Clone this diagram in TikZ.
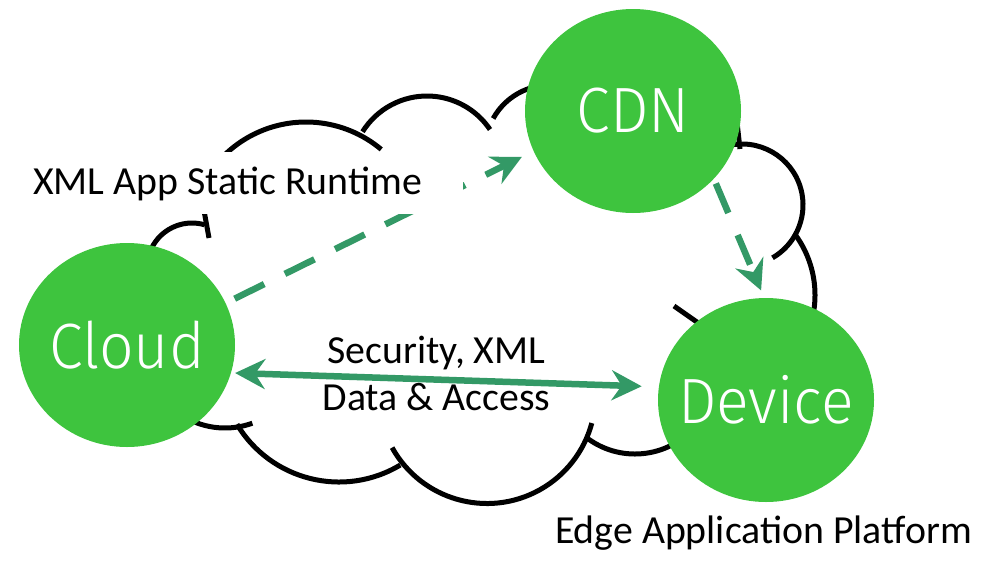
\documentclass[tikz,border=0pt]{standalone}
\usepackage{fontspec}
\setmainfont{Carlito}
\IfFontExistsTF{Fira Sans Light}
  {\newfontfamily\circfont[FakeStretch=0.95]{Fira Sans Light}}
  {\newfontfamily\circfont[FakeStretch=0.9]{Fira Sans}}
\usetikzlibrary{arrows.meta,shapes.geometric}
\definecolor{nodegreen}{RGB}{62,196,62}
\definecolor{arrowgreen}{RGB}{51,153,102}
\pgfdeclarelayer{bg}
\pgfsetlayers{bg,main}
\begin{document}
\begin{tikzpicture}[x=1pt,y=-1pt,
  bump/.style={line width=5pt, black},
  hub/.style={ellipse, fill=nodegreen, minimum width=216pt, minimum height=204pt,
    inner sep=0pt, text=white, font=\circfont\fontsize{64}{70}\selectfont},
  lbl/.style={font=\fontsize{39.8}{47}\selectfont, inner sep=0pt, anchor=base},
  flow/.style={arrowgreen, line width=6.5pt},
  tipend/.style={-{Stealth[length=30pt, width=30pt, inset=10pt]}},
  dashflow/.style={flow, tipend},
]
\useasboundingbox (0,0) rectangle (984,560);

% hubs
\node[hub] (cloudn) at (127,345) {\makebox[0pt]{Cloud}};
\node[hub] (cdn) at (633,111) {\makebox[0pt]{CDN}};
\node[hub] (device) at (766,400) {\makebox[0pt]{Device}};

% cloud outline behind the hubs
\begin{pgfonlayer}{bg}
\draw[bump] (306,239) ++(145:117pt) arc[start angle=145, end angle=50, radius=117pt];
\draw[bump] (427,172) ++(148:76pt) arc[start angle=148, end angle=34, radius=76pt];
\draw[bump] (550,150) ++(151:65pt) arc[start angle=151, end angle=80, radius=65pt];
\draw[bump] (737,122) -- (740,149);
\draw[bump] (742,205) ++(100:61pt) arc[start angle=100, end angle=-60, radius=61pt];
\draw[bump] (713,295) ++(37:102pt) arc[start angle=37, end angle=-20, radius=102pt];
\draw[bump] (674,306) -- (714,334);
\draw[bump] (635,374) ++(234:80pt) arc[start angle=234, end angle=322, radius=80pt];
\draw[bump] (487,395) ++(209:108.5pt) arc[start angle=209, end angle=345, radius=108.5pt];
\draw[bump] (339,363) ++(211:119pt) arc[start angle=211, end angle=301, radius=119pt];
\draw[bump] (225,348) ++(240:80pt) arc[start angle=240, end angle=290, radius=80pt];
\draw[bump] (192,268) ++(200:45pt) arc[start angle=200, end angle=74, radius=45pt];
\draw[bump] (203,205) -- (209,238);
\end{pgfonlayer}

% connectors
\draw[dashflow, dash pattern=on 33pt off 23pt, shorten <=10pt, shorten >=13pt]
  (cloudn.23.7) -- (cdn.202.9);
\draw[dashflow, dash pattern=on 32pt off 24pt, shorten <=5pt, shorten >=8pt]
  (cdn.-40.6) -- (device.91.6);
\draw[flow, {Stealth[length=30pt, width=30pt, inset=10pt]}-{Stealth[length=30pt, width=30pt, inset=10pt]},
  shorten <=4pt, shorten >=17pt] (cloudn.345) -- (device.173.6);

% labels
\node[lbl, anchor=base west, fill=white, inner xsep=41pt, inner ysep=14pt] (xmlrt) at (-8,194) {XML App Static Runtime};
\node[lbl] (sec1) at (436.5,363) {Security, XML};
\node[lbl] (sec2) at (436.5,410) {Data \& Access};
\node[lbl] (edge) at (763.5,543) {Edge Application Platform};
\end{tikzpicture}
\end{document}
